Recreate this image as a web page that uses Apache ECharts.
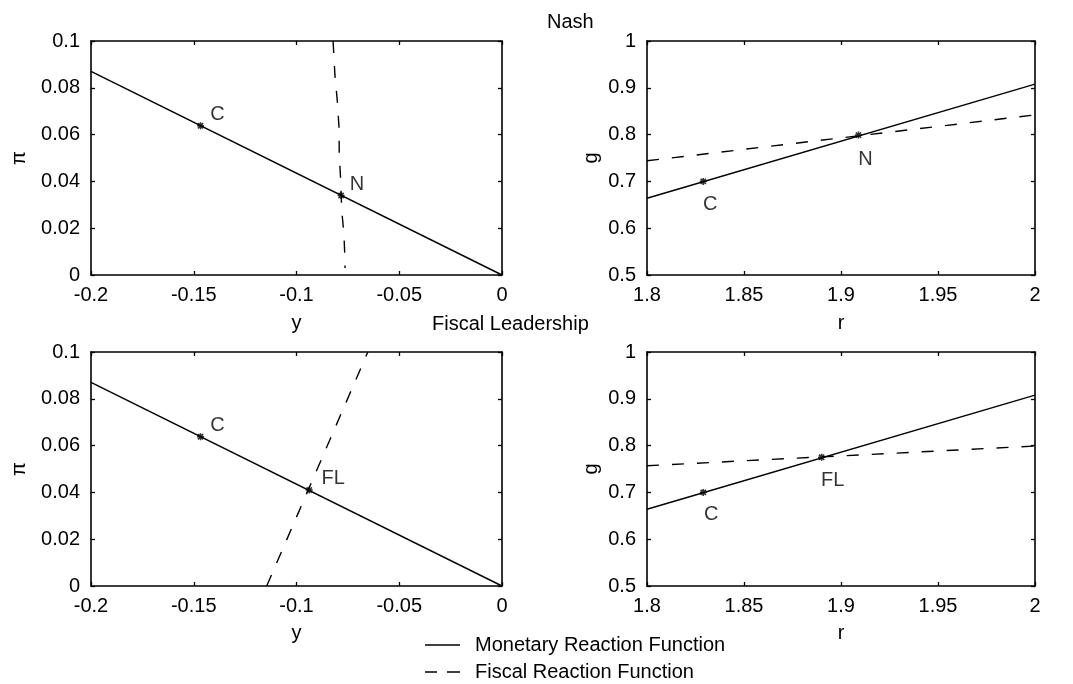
<!DOCTYPE html>
<html>
<head>
<meta charset="utf-8">
<script src="https://cdn.jsdelivr.net/npm/echarts@6/dist/echarts.min.js"></script>
<style>
  html, body { margin: 0; padding: 0; background: #fff; }
  #chart { width: 1073px; height: 684px; }
</style>
</head>
<body>
<div id="chart"></div>
<script>
// ---- data ----
// output gap y vs inflation pi (left panels)
const yTickLabels = ['-0.2', '-0.15', '-0.1', '-0.05', '0'];
const piTickLabels = ['0', '0.02', '0.04', '0.06', '0.08', '0.1'];
// interest rate r vs government spending g (right panels)
const rTickLabels = ['1.8', '1.85', '1.9', '1.95', '2'];
const gTickLabels = ['0.5', '0.6', '0.7', '0.8', '0.9', '1'];

// monetary reaction function in (y, pi)
const monetaryY = [-0.2, 0];
const monetaryPi = [0.087, 0];
// fiscal reaction function in (y, pi), Nash case
const fiscalNashY = [-0.0822, -0.0813, -0.0801, -0.0793, -0.0792, -0.0785, -0.0780, -0.0769, -0.0764, -0.0764];
const fiscalNashPi = [0.1, 0.0855, 0.0739, 0.0628, 0.0513, 0.0406, 0.0278, 0.0171, 0.0064, 0.003];
// fiscal reaction function in (y, pi), fiscal leadership case
const fiscalLeadY = [-0.1145, -0.0653];
const fiscalLeadPi = [0, 0.1];

// monetary reaction function in (r, g)
const monetaryR = [1.8, 2];
const monetaryG = [0.664, 0.908];
// fiscal reaction functions in (r, g)
const fiscalNashR = [1.8, 2];
const fiscalNashG = [0.744, 0.842];
const fiscalLeadR = [1.8, 2];
const fiscalLeadG = [0.757, 0.799];

// equilibrium points: C (cooperative), N (Nash), FL (fiscal leadership)
const pointNamesTL = ['C', 'N'];
const pointYTL = [-0.1467, -0.0783];
const pointPiTL = [0.0638, 0.034];
const pointNamesTR = ['C', 'N'];
const pointRTR = [1.829, 1.909];
const pointGTR = [0.70, 0.799];
const pointNamesBL = ['C', 'FL'];
const pointYBL = [-0.1467, -0.0938];
const pointPiBL = [0.0638, 0.041];
const pointNamesBR = ['C', 'FL'];
const pointRBR = [1.829, 1.89];
const pointGBR = [0.70, 0.775];

const MONETARY = 'Monetary Reaction Function';
const FISCAL = 'Fiscal Reaction Function';

// ---- helpers ----
const FONT = "'Liberation Sans', Arial, sans-serif";
const INK = '#000';
const zip = (a, b) => a.map((v, i) => [v, b[i]]);

const grids = [
  { left: 91, top: 41, width: 411, height: 234 },
  { left: 647, top: 41, width: 388, height: 234 },
  { left: 91, top: 352, width: 411, height: 234 },
  { left: 647, top: 352, width: 388, height: 234 }
];

function axisPair(kind, gridIndex, min, max, interval, labels, name, nameGap) {
  const isX = kind === 'x';
  const common = {
    type: 'value', gridIndex, min, max, interval,
    splitLine: { show: false },
    axisLine: { show: true, onZero: false, lineStyle: { color: INK, width: 1.6 } },
    axisTick: { show: true, inside: true, length: 4, lineStyle: { color: INK, width: 1.3 } }
  };
  const primary = Object.assign({}, common, {
    position: isX ? 'bottom' : 'left',
    name, nameLocation: 'middle', nameGap,
    nameRotate: isX ? 0 : 90,
    nameTextStyle: { color: INK, fontSize: 20, fontFamily: FONT },
    axisLabel: {
      show: true, color: INK, fontSize: 20, fontFamily: FONT,
      margin: isX ? 10 : 11,
      formatter: (v, i) => labels[i]
    }
  });
  const mirror = Object.assign({}, common, {
    position: isX ? 'top' : 'right',
    axisLabel: { show: false }
  });
  return [primary, mirror];
}

const xAxis = [].concat(
  axisPair('x', 0, -0.2, 0, 0.05, yTickLabels, 'y', 38),
  axisPair('x', 1, 1.8, 2, 0.05, rTickLabels, 'r', 38),
  axisPair('x', 2, -0.2, 0, 0.05, yTickLabels, 'y', 37),
  axisPair('x', 3, 1.8, 2, 0.05, rTickLabels, 'r', 37)
);
const yAxis = [].concat(
  axisPair('y', 0, 0, 0.1, 0.02, piTickLabels, 'π', 62),
  axisPair('y', 1, 0.5, 1, 0.1, gTickLabels, 'g', 46),
  axisPair('y', 2, 0, 0.1, 0.02, piTickLabels, 'π', 62),
  axisPair('y', 3, 0.5, 1, 0.1, gTickLabels, 'g', 46)
);

function lineSeries(name, g, xs, ys, dashed) {
  return {
    name, type: 'line', xAxisIndex: 2 * g, yAxisIndex: 2 * g,
    data: zip(xs, ys), symbol: 'none', silent: true, animation: false,
    lineStyle: { color: INK, width: 1.4, type: dashed ? [12, 13] : 'solid' },
    itemStyle: { color: INK }
  };
}

// small cross marker for the equilibrium points
const CROSS = 'path://M0,-4L0,4M-4,0L4,0M-3,-3L3,3M-3,3L3,-3';

function pointSeries(g, names, xs, ys, offsets) {
  return {
    type: 'scatter', xAxisIndex: 2 * g, yAxisIndex: 2 * g,
    symbol: CROSS, symbolSize: 7, animation: false, silent: true,
    itemStyle: { color: 'none', borderColor: INK, borderWidth: 1.6 },
    data: names.map((n, i) => ({
      value: [xs[i], ys[i]], name: n,
      label: {
        show: true, position: 'inside', formatter: n,
        offset: offsets[i], color: INK, fontSize: 20, fontFamily: FONT
      }
    }))
  };
}

const series = [
  lineSeries(MONETARY, 0, monetaryY, monetaryPi, false),
  lineSeries(FISCAL, 0, fiscalNashY, fiscalNashPi, true),
  lineSeries(MONETARY, 1, monetaryR, monetaryG, false),
  lineSeries(FISCAL, 1, fiscalNashR, fiscalNashG, true),
  lineSeries(MONETARY, 2, monetaryY, monetaryPi, false),
  lineSeries(FISCAL, 2, fiscalLeadY, fiscalLeadPi, true),
  lineSeries(MONETARY, 3, monetaryR, monetaryG, false),
  lineSeries(FISCAL, 3, fiscalLeadR, fiscalLeadG, true),
  pointSeries(0, pointNamesTL, pointYTL, pointPiTL, [[17, -11], [16, -11]]),
  pointSeries(1, pointNamesTR, pointRTR, pointGTR, [[7, 23], [7, 24]]),
  pointSeries(2, pointNamesBL, pointYBL, pointPiBL, [[17, -11], [24, -12]]),
  pointSeries(3, pointNamesBR, pointRBR, pointGBR, [[8, 22], [11, 23]])
];

// legend keys: a solid stroke and a two-dash stroke
const SOLID_KEY = 'path://M0,0H35V1.5H0Z';
const DASH_KEY = 'path://M0,0H12V1.5H0Z M22,0H35V1.5H22Z';

const chart = echarts.init(document.getElementById('chart'), null, { renderer: 'canvas' });
chart.setOption({
  backgroundColor: '#fff',
  animation: false,
  title: [
    { text: 'Nash', left: 547, top: 12, padding: 0,
      textStyle: { color: INK, fontSize: 20, fontWeight: 'normal', fontFamily: FONT } },
    { text: 'Fiscal Leadership', left: 432, top: 314, padding: 0,
      textStyle: { color: INK, fontSize: 20, fontWeight: 'normal', fontFamily: FONT } }
  ],
  legend: {
    data: [
      { name: MONETARY, icon: SOLID_KEY },
      { name: FISCAL, icon: DASH_KEY }
    ],
    orient: 'vertical', left: 425, top: 635, padding: 0,
    itemWidth: 35, itemHeight: 14, itemGap: 7,
    selectedMode: false,
    itemStyle: { color: INK, borderWidth: 0 },
    textStyle: { color: INK, fontSize: 20, fontFamily: FONT, padding: [0, 0, 0, 10] }
  },
  grid: grids,
  xAxis, yAxis, series
});
</script>
</body>
</html>
